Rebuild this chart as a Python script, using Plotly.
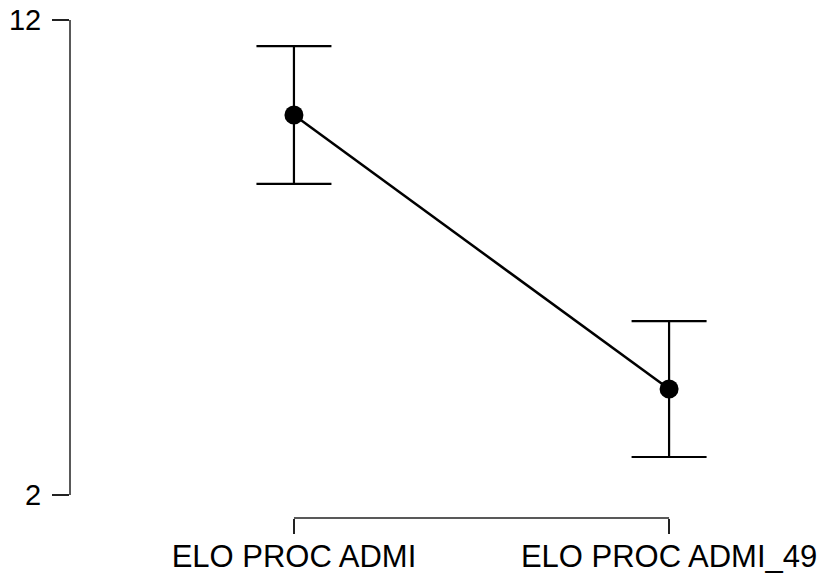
import plotly.graph_objects as go

categories = ["ELO PROC ADMI", "ELO PROC ADMI_49"]
means = [10.0, 4.23]
errors = [1.45, 1.43]
y_ticks = [2, 12]

xpos = list(range(len(categories)))

fig = go.Figure()
fig.add_trace(go.Scatter(
    x=xpos, y=means, mode="lines+markers",
    line=dict(color="black", width=2.5),
    marker=dict(size=19, color="black"),
    error_y=dict(type="data", array=errors, visible=True, color="black", thickness=2.2, width=37.5),
    showlegend=False,
))

# axis lines spanning the data range only
fig.add_shape(type="line", xref="x", yref="paper", x0=xpos[0], x1=xpos[-1], y0=0, y1=0,
              line=dict(color="#222", width=1.5))
fig.add_shape(type="line", xref="paper", yref="y", x0=0, x1=0, y0=y_ticks[0], y1=y_ticks[-1],
              line=dict(color="#222", width=1.5))

fig.update_layout(
    width=822, height=577,
    margin=dict(l=70, r=22, t=20, b=59),
    plot_bgcolor="white", paper_bgcolor="white",
    font=dict(family="Liberation Sans, Arial, sans-serif", size=31, color="black"),
    xaxis=dict(range=[-0.597, 1.349], tickvals=xpos, ticktext=categories,
               showgrid=False, zeroline=False, showline=False, automargin=False,
               ticks="outside", ticklen=15, tickwidth=1.5, tickcolor="#222", ticklabelstandoff=-4),
    yaxis=dict(range=[1.516, 12.0], tickvals=y_ticks, tickfont=dict(size=29),
               showgrid=False, zeroline=False, showline=False, automargin=False,
               ticks="outside", ticklen=17, tickwidth=1.5, tickcolor="#222", ticklabelstandoff=5),
)
fig.write_html("out.html", config={"displayModeBar": False})

with open("out.html", "r", encoding="utf-8") as f:
    html = f.read()
html = html.replace("<body>", '<body style="margin:0;overflow:hidden">', 1)
with open("out.html", "w", encoding="utf-8") as f:
    f.write(html)
